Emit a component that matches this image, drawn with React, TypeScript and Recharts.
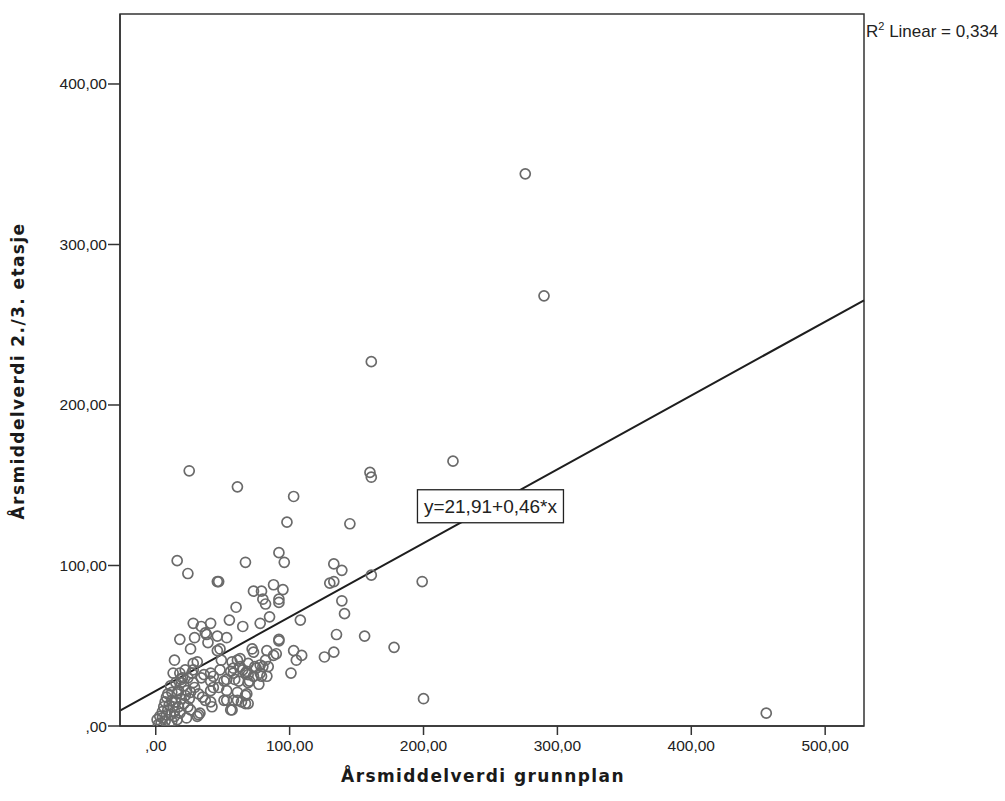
import { ScatterChart, Scatter, XAxis, YAxis, ReferenceArea, ReferenceLine, ReferenceDot } from "recharts";

// values (x = grunnplan, y = 2./3. etasje)
const outliers: [number, number][] = [
  [276, 344], [290, 268], [161, 227], [160, 158], [161, 155], [222, 165], [25, 159], [61, 149],
  [103, 143], [98, 127], [145, 126], [199, 90], [200, 17], [456, 8], [178, 49], [156, 56],
  [161, 94], [16, 103], [24, 95], [67, 102], [92, 108], [96, 102], [133, 101], [139, 97],
  [130, 89], [133, 90], [46, 90], [47, 90], [139, 78], [141, 70], [108, 66], [85, 68],
  [78, 64], [88, 88], [95, 85], [79, 84], [92, 79], [80, 79], [73, 84], [135, 57],
  [60, 74], [82, 76], [92, 77],
];

const midPoints: [number, number][] = [
  [28, 64], [34, 62], [41, 64], [55, 66], [65, 62], [37, 58], [46, 56], [53, 55], [18, 54],
  [29, 55], [38, 57], [26, 48], [39, 52], [46, 47], [48, 48], [72, 48], [73, 46], [83, 47],
  [82, 41], [88, 44], [90, 45], [92, 53], [92, 54], [103, 47], [109, 44], [105, 41], [126, 43],
  [133, 46], [101, 33], [14, 41], [31, 40], [28, 39], [49, 41], [57, 40], [61, 41], [63, 42],
  [69, 39], [78, 38], [84, 37], [36, 32], [41, 33], [48, 35], [56, 34], [58, 36], [63, 37],
  [67, 33], [68, 34], [74, 37], [75, 36], [80, 37], [78, 33], [73, 31], [79, 31], [83, 31],
  [69, 32], [65, 35], [58, 33], [13, 33], [22, 35], [28, 35],
];

const clusterPoints: [number, number][] = [
  [19, 29], [20, 30], [27, 33], [34, 30], [43, 31], [41, 28], [51, 28], [53, 29], [59, 29],
  [62, 28], [69, 27], [70, 28], [77, 26], [19, 27], [28, 27], [21, 25], [11, 25], [29, 24],
  [43, 24], [47, 24], [53, 22], [61, 21], [68, 20], [67, 19], [23, 22], [17, 22], [12, 21],
  [16, 20], [32, 20], [41, 22], [8, 18], [35, 18], [25, 17], [37, 16], [51, 16], [53, 16],
  [58, 16], [61, 16], [64, 15], [67, 14], [69, 14], [41, 15], [15, 15], [12, 16], [21, 14],
  [6, 12], [13, 12], [42, 12], [57, 10], [56, 10], [26, 10], [9, 10], [5, 9], [14, 9],
  [18, 8], [33, 8], [11, 7], [32, 7], [3, 6], [31, 6], [23, 5], [16, 4], [1, 4], [7, 3],
  [4, 2], [10, 1], [2, 1], [5, 5], [8, 7], [12, 3], [14, 6], [17, 12], [19, 17], [22, 19],
  [24, 12], [26, 21], [10, 13], [7, 15], [15, 27], [18, 33], [24, 30], [9, 20],
];

const xTicks = [0, 100, 200, 300, 400, 500];
const yTicks = [0, 100, 200, 300, 400];
const xDomain: [number, number] = [-26.7, 529];
const yDomain: [number, number] = [0, 443.6];

const intercept = 21.91;
const slope = 0.46;
const rSquared = 0.334;
const equationAt = 250;

const xTitle = "Årsmiddelverdi grunnplan";
const yTitle = "Årsmiddelverdi 2./3. etasje";

const data = [...outliers, ...midPoints, ...clusterPoints].map(([x, y]) => ({ x, y }));

const comma = (v: number, d: number) => v.toFixed(d).replace(".", ",");
const tickFmt = (v: number) => (v === 0 ? ",00" : comma(v, 2));
const fit = (x: number) => intercept + slope * x;

const tickStyle = { fill: "#222", fontSize: 15.5, fontFamily: "Liberation Sans, Arial, sans-serif" };
const titleStyle = { fontFamily: "DejaVu Sans, sans-serif", fontWeight: 700, fontSize: 17, letterSpacing: 1.4, fill: "#1a1a1a" };

const Ring = (props: any) => (
  <circle cx={props.cx} cy={props.cy} r={5} fill="none" stroke="#6a6a6a" strokeWidth={1.7} />
);

const EquationBox = (props: any) => {
  const { cx, cy } = props;
  return (
    <g>
      <rect x={cx - 73} y={cy - 16.5} width={146} height={33} fill="#fff" stroke="#222" strokeWidth={1.3} />
      <text x={cx} y={cy + 7} textAnchor="middle" fontSize={19} fontFamily="Liberation Sans, Arial, sans-serif" fill="#222">
        {`y=${comma(intercept, 2)}+${comma(slope, 2)}*x`}
      </text>
    </g>
  );
};

export default function App() {
  return (
    <div style={{ position: "absolute", left: 0, top: 0, width: 1005, height: 801, background: "#fff" }}>
      <ScatterChart width={1005} height={801} margin={{ top: 14, right: 141, bottom: 0, left: 0 }}>
        <XAxis
          type="number"
          dataKey="x"
          domain={xDomain}
          ticks={xTicks}
          tickFormatter={tickFmt}
          allowDataOverflow
          height={75}
          tickSize={9}
          tickMargin={5}
          axisLine={{ stroke: "#333", strokeWidth: 1.5 }}
          tickLine={{ stroke: "#333", strokeWidth: 1.5 }}
          tick={tickStyle}
          label={{
            content: () => (
              <text x={483} y={782} textAnchor="middle" style={titleStyle}>
                {xTitle}
              </text>
            ),
          }}
        />
        <YAxis
          type="number"
          dataKey="y"
          domain={yDomain}
          ticks={yTicks}
          tickFormatter={tickFmt}
          allowDataOverflow
          width={120}
          tickSize={12}
          tickMargin={1}
          axisLine={{ stroke: "#333", strokeWidth: 1.5 }}
          tickLine={{ stroke: "#333", strokeWidth: 1.5 }}
          tick={tickStyle}
          label={{
            content: () => (
              <text x={24} y={371} textAnchor="middle" transform="rotate(-90, 24, 371)" style={titleStyle}>
                {yTitle}
              </text>
            ),
          }}
        />
        <Scatter data={data} shape={Ring} isAnimationActive={false} />
        <ReferenceLine
          segment={[
            { x: xDomain[0], y: fit(xDomain[0]) },
            { x: xDomain[1], y: fit(xDomain[1]) },
          ]}
          stroke="#1e1e1e"
          strokeWidth={2}
          ifOverflow="visible"
        />
        <ReferenceDot x={equationAt} y={fit(equationAt)} r={0} shape={EquationBox} ifOverflow="visible" />
        <ReferenceArea
          x1={xDomain[0]}
          x2={xDomain[1]}
          y1={yDomain[0]}
          y2={yDomain[1]}
          fill="none"
          stroke="#333"
          strokeWidth={1.5}
          ifOverflow="visible"
        />
      </ScatterChart>
      <div
        style={{
          position: "absolute",
          left: 866,
          top: 20,
          fontFamily: "Liberation Sans, Arial, sans-serif",
          fontSize: 17,
          color: "#222",
          whiteSpace: "nowrap",
        }}
      >
        R<sup style={{ fontSize: 11 }}>2</sup> Linear = {comma(rSquared, 3)}
      </div>
    </div>
  );
}
